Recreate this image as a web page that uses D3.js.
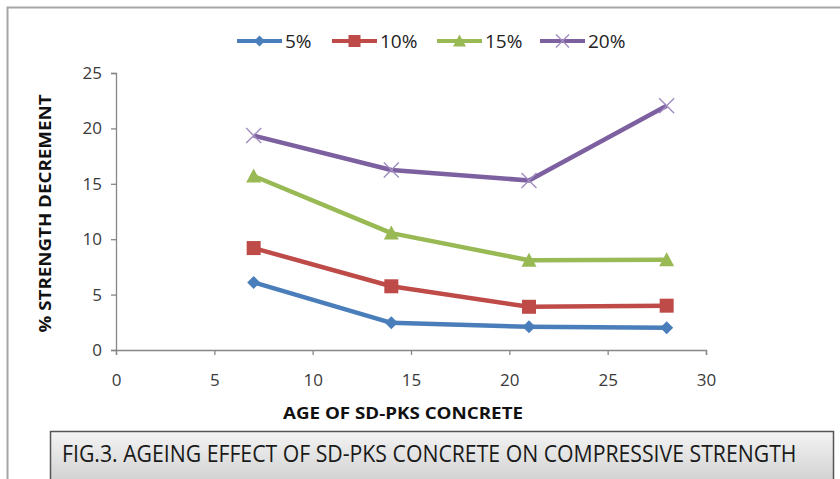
<!DOCTYPE html>
<html>
<head>
<meta charset="utf-8">
<script src="https://cdn.jsdelivr.net/npm/d3@7/dist/d3.min.js"></script>
<style>
  html, body { margin: 0; padding: 0; background: #fff; }
  svg { display: block; }
</style>
</head>
<body>
<svg id="chart" width="840" height="479"></svg>
<script>
// Age of concrete (days)
const ages = [7, 14, 21, 28];
// % strength decrement for each replacement level
const seriesNames = ["5%", "10%", "15%", "20%"];
const s5  = [6.1, 2.45, 2.1, 2.0];
const s10 = [9.2, 5.75, 3.9, 4.0];
const s15 = [15.7, 10.55, 8.1, 8.15];
const s20 = [19.35, 16.25, 15.3, 22.05];
const xTicks = [0, 5, 10, 15, 20, 25, 30];
const yTicks = [0, 5, 10, 15, 20, 25];
const caption = "FIG.3. AGEING EFFECT OF SD-PKS CONCRETE ON COMPRESSIVE STRENGTH";

const series = [
  { name: seriesNames[0], values: s5,  color: "#4a7ebb", marker: "diamond" },
  { name: seriesNames[1], values: s10, color: "#be4b48", marker: "square" },
  { name: seriesNames[2], values: s15, color: "#98b954", marker: "triangle" },
  { name: seriesNames[3], values: s20, color: "#7d60a0", marker: "cross" }
];

const svg = d3.select("#chart");
const font = "'Open Sans', 'Liberation Sans', sans-serif";

// squeeze a text horizontally to a target width
function fitWidth(sel, width, x0, y0, anchorMiddle) {
  const w = sel.node().getComputedTextLength();
  const k = width / w;
  sel.attr("x", 0).attr("y", 0)
    .attr("transform", `translate(${x0},${y0}) scale(${k},1)`);
  if (anchorMiddle) sel.attr("text-anchor", "middle");
}

// outer chart frame
svg.append("path")
  .attr("d", "M7.5,479 L7.5,7.5 L840,7.5")
  .attr("fill", "none").attr("stroke", "#a6a6a6").attr("stroke-width", 2);

const x = d3.scaleLinear().domain([0, 30]).range([116, 706]);
const y = d3.scaleLinear().domain([0, 25]).range([350, 73]);

const axisColor = "#868686";
const tickText = "#3a3a3a";

// y axis
const yAxis = svg.append("g").attr("transform", `translate(${x(0)},0)`)
  .call(d3.axisLeft(y).tickValues(yTicks).tickSize(5).tickPadding(9).tickFormat(d3.format("d")));
// x axis
const xAxis = svg.append("g").attr("transform", `translate(0,${y(0)})`)
  .call(d3.axisBottom(x).tickValues(xTicks).tickSize(5).tickPadding(19).tickFormat(d3.format("d")));

[yAxis, xAxis].forEach(g => {
  g.select(".domain").attr("stroke", axisColor).attr("stroke-width", 1.3);
  g.selectAll(".tick line").attr("stroke", axisColor).attr("stroke-width", 1.3);
  g.selectAll(".tick text").attr("fill", tickText)
    .style("font-family", font).style("font-size", "17px");
});

// axis titles
svg.append("text")
  .attr("transform", `translate(51,${(y(0) + y(25)) / 2 + 2}) rotate(-90)`)
  .attr("text-anchor", "middle")
  .attr("textLength", 238).attr("lengthAdjust", "spacingAndGlyphs")
  .style("font-family", font).style("font-size", "16px").style("font-weight", "bold")
  .attr("fill", "#111").text("% STRENGTH DECREMENT");

svg.append("text")
  .attr("x", 403).attr("y", 419)
  .attr("text-anchor", "middle")
  .attr("textLength", 240).attr("lengthAdjust", "spacingAndGlyphs")
  .style("font-family", font).style("font-size", "16px").style("font-weight", "bold")
  .attr("fill", "#111").text("AGE OF SD-PKS CONCRETE");

// marker drawing
function drawMarker(g, type, color, size) {
  const h = size / 2;
  if (type === "diamond") {
    g.append("path").attr("d", `M0,${-h} L${h},0 L0,${h} L${-h},0 Z`).attr("fill", color);
  } else if (type === "square") {
    g.append("rect").attr("x", -h).attr("y", -h).attr("width", size).attr("height", size)
      .attr("fill", color);
  } else if (type === "triangle") {
    g.append("path").attr("d", `M0,${-h - 1} L${h + 1},${h} L${-h - 1},${h} Z`).attr("fill", color);
  } else if (type === "cross") {
    g.append("path").attr("d", `M${-h},${-h} L${h},${h} M${h},${-h} L${-h},${h}`)
      .attr("stroke", "#a08cc0").attr("stroke-width", 1.4).attr("fill", "none");
  }
}

const line = d3.line().x((d, i) => x(ages[i])).y(d => y(d));

series.forEach(s => {
  svg.append("path")
    .datum(s.values)
    .attr("d", line)
    .attr("fill", "none")
    .attr("stroke", s.color)
    .attr("stroke-width", 4.5)
    .attr("stroke-linejoin", "round");
  s.values.forEach((v, i) => {
    const g = svg.append("g").attr("transform", `translate(${x(ages[i])},${y(v)})`);
    drawMarker(g, s.marker, s.color, s.marker === "square" ? 14 : (s.marker === "cross" ? 15 : 13));
  });
});

// legend
const legendX = [237, 332, 437, 540];
series.forEach((s, i) => {
  const lx = legendX[i], ly = 41;
  svg.append("line")
    .attr("x1", lx).attr("x2", lx + 45).attr("y1", ly).attr("y2", ly)
    .attr("stroke", s.color).attr("stroke-width", 4);
  const g = svg.append("g").attr("transform", `translate(${lx + 22.5},${ly})`);
  drawMarker(g, s.marker, s.color, s.marker === "square" ? 12 : (s.marker === "cross" ? 13 : 11));
  svg.append("text")
    .attr("x", lx + 48).attr("y", ly + 7)
    .style("font-family", font).style("font-size", "19px")
    .attr("fill", "#222").text(s.name);
});

// caption box, running past the bottom edge
const defs = svg.append("defs");
const grad = defs.append("linearGradient").attr("id", "capFill")
  .attr("x1", 0).attr("x2", 0).attr("y1", 0).attr("y2", 1);
grad.append("stop").attr("offset", "0%").attr("stop-color", "#f4f4f4");
grad.append("stop").attr("offset", "100%").attr("stop-color", "#d2d2d2");

svg.append("rect")
  .attr("x", 50.5).attr("y", 431.5).attr("width", 783).attr("height", 49)
  .attr("fill", "url(#capFill)").attr("stroke", "#555").attr("stroke-width", 1.5);

const cap = svg.append("text")
  .style("font-family", font).style("font-size", "23px")
  .attr("fill", "#1a1a1a").text(caption);
fitWidth(cap, 735, 62, 462, false);
</script>
</body>
</html>
